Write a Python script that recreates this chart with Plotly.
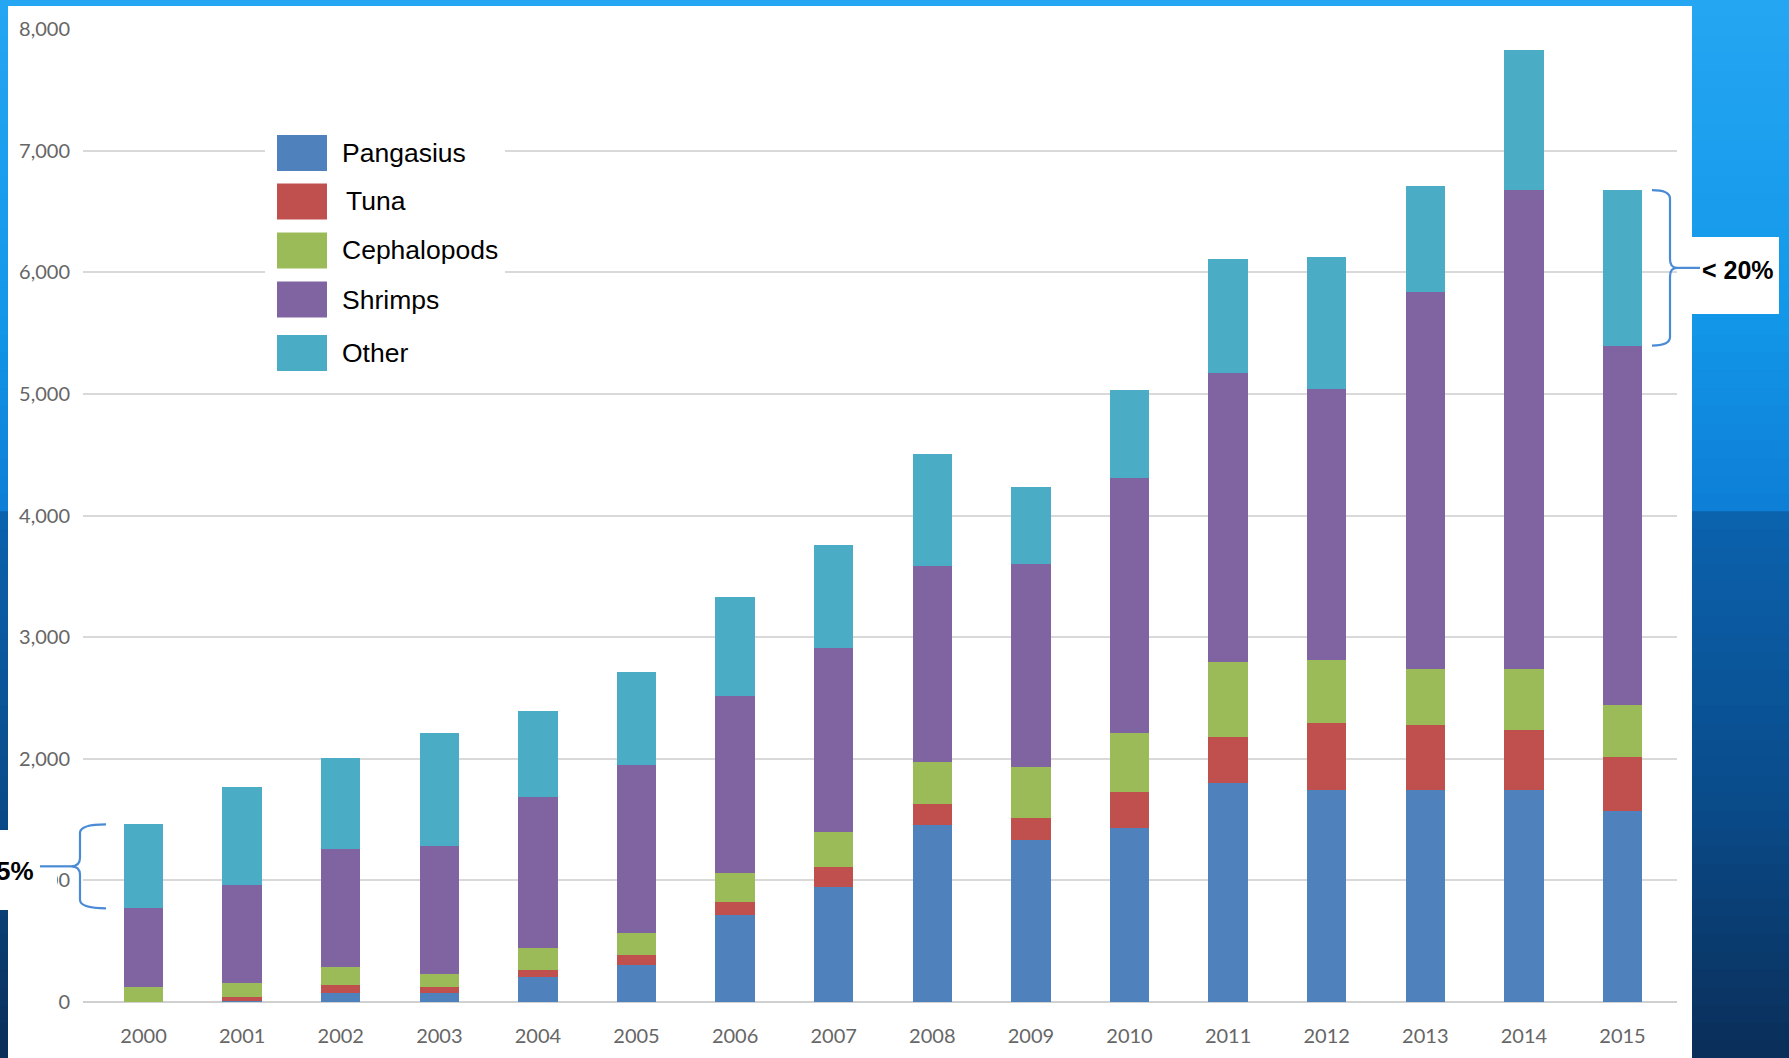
import plotly.graph_objects as go

# ---------------- data ----------------
years = ["2000", "2001", "2002", "2003", "2004", "2005", "2006", "2007",
         "2008", "2009", "2010", "2011", "2012", "2013", "2014", "2015"]
pangasius   = [0, 5, 71, 71, 203, 304, 715, 948, 1452, 1333, 1433, 1799, 1741, 1741, 1741, 1568]
tuna        = [0, 40, 69, 55, 60, 83, 110, 165, 180, 179, 290, 382, 550, 535, 499, 443]
cephalopods = [126, 115, 151, 104, 178, 178, 233, 288, 338, 418, 485, 616, 520, 458, 494, 433]
shrimps     = [644, 798, 967, 1053, 1248, 1384, 1461, 1507, 1611, 1671, 2102, 2376, 2230, 3106, 3941, 2953]
other       = [691, 808, 751, 932, 704, 768, 809, 850, 924, 637, 724, 935, 1084, 871, 1156, 1278]

series_names = ["Pangasius", "Tuna", "Cephalopods", "Shrimps", "Other"]
series_vals = [pangasius, tuna, cephalopods, shrimps, other]
colors = ["#4F81BD", "#C0504D", "#9BBB59", "#8064A2", "#4BACC6"]
y_ticks = [0, 1000, 2000, 3000, 4000, 5000, 6000, 7000, 8000]

# ---------------- geometry helpers (pixels -> paper) ----------------
W, H = 1789, 1058
L, R, T, B = 83, 1677, 29, 1002


def px(x):
    return (x - L) / (R - L)


def py(y):
    return (B - y) / (B - T)


fig = go.Figure()
for name, vals, col in zip(series_names, series_vals, colors):
    fig.add_trace(go.Bar(x=years, y=vals, name=name, marker=dict(color=col, line=dict(width=0)),
                         width=0.4, showlegend=False))

shapes = []


def hexlerp(c1, c2, t):
    a = [int(c1[i:i + 2], 16) for i in (1, 3, 5)]
    b = [int(c2[i:i + 2], 16) for i in (1, 3, 5)]
    return "#%02x%02x%02x" % tuple(int(round(a[k] + (b[k] - a[k]) * t)) for k in range(3))


stops = [(0.0, "#25a6f3"), (0.30, "#1297e8"), (0.48, "#0e7ed6"), (0.49, "#0b62ad"),
         (0.75, "#0a4c8c"), (1.0, "#0a2e58")]
N = 60
for i in range(N):
    y0 = i / N
    y1 = (i + 1) / N
    t = (y0 + y1) / 2
    for j in range(len(stops) - 1):
        if stops[j][0] <= t <= stops[j + 1][0]:
            f = (t - stops[j][0]) / (stops[j + 1][0] - stops[j][0])
            c = hexlerp(stops[j][1], stops[j + 1][1], f)
            break
    shapes.append(dict(type="rect", xref="paper", yref="paper", layer="below",
                       x0=px(0), x1=px(W), y0=py(y0 * H), y1=py(y1 * H + 1),
                       fillcolor=c, line=dict(width=0)))

# white panel
shapes.append(dict(type="rect", xref="paper", yref="paper", layer="below",
                   x0=px(8), x1=px(1692), y0=py(6), y1=py(H),
                   fillcolor="white", line=dict(width=0)))

# legend background (covers gridlines)
shapes.append(dict(type="rect", xref="paper", yref="paper", layer="above",
                   x0=px(265), x1=px(505), y0=py(118), y1=py(385),
                   fillcolor="white", line=dict(width=0)))

annotations = []
leg_rows = [153, 201.5, 250.5, 299.5, 353]
leg_text_x = [340, 344, 340, 340, 340]
for name, col, yc, tx in zip(series_names, colors, leg_rows, leg_text_x):
    shapes.append(dict(type="rect", xref="paper", yref="paper", layer="above",
                       x0=px(277), x1=px(327), y0=py(yc - 18), y1=py(yc + 18),
                       fillcolor=col, line=dict(width=0)))
    annotations.append(dict(x=px(tx), y=py(yc), xref="paper", yref="paper",
                            text=name, showarrow=False, xanchor="left", yanchor="middle",
                            font=dict(family="Liberation Sans, Arial", size=26.5, color="black")))

# left white label box
shapes.append(dict(type="rect", xref="paper", yref="paper", layer="above",
                   x0=px(0), x1=px(57), y0=py(830), y1=py(910),
                   fillcolor="white", line=dict(width=0)))
# right white label box
shapes.append(dict(type="rect", xref="paper", yref="paper", layer="above",
                   x0=px(1692), x1=px(1779), y0=py(237), y1=py(314),
                   fillcolor="white", line=dict(width=0)))

brace_col = "#4A8BD6"


def brace(tip, xv, xc, top, bot, r):
    mid = (top + bot) / 2
    p = (f"M {px(tip)},{top} Q {px(xv)},{top} {px(xv)},{top - r} "
         f"L {px(xv)},{mid + r} Q {px(xv)},{mid} {px(xc)},{mid} "
         f"Q {px(xv)},{mid} {px(xv)},{mid - r} "
         f"L {px(xv)},{bot + r} Q {px(xv)},{bot} {px(tip)},{bot}")
    return dict(type="path", xref="paper", yref="y", layer="above", path=p,
                line=dict(color=brace_col, width=2.2))


# brace on 2000 "Other"
tot0 = sum(v[0] for v in series_vals)
bot0 = tot0 - other[0]
shapes.append(brace(106, 80, 71, tot0, bot0, 70))
mid0 = (tot0 + bot0) / 2
shapes.append(dict(type="line", xref="paper", yref="y", layer="above",
                   x0=px(40), x1=px(71), y0=mid0, y1=mid0, line=dict(color=brace_col, width=2.2)))
annotations.append(dict(x=px(36), y=mid0 - 40, xref="paper", yref="y", text="<b>5%</b>",
                        showarrow=False, xanchor="right", yanchor="middle",
                        font=dict(family="Liberation Sans, Arial", size=26, color="black")))

# brace on 2015 "Other"
tot15 = sum(v[-1] for v in series_vals)
bot15 = tot15 - other[-1]
shapes.append(brace(1652, 1670, 1677, tot15, bot15, 70))
mid15 = (tot15 + bot15) / 2
shapes.append(dict(type="line", xref="paper", yref="y", layer="above",
                   x0=px(1677), x1=px(1700), y0=mid15, y1=mid15, line=dict(color=brace_col, width=2.2)))
annotations.append(dict(x=px(1700), y=mid15 - 20, xref="paper", yref="y", text="<b>< 20%</b>",
                        showarrow=False, xanchor="left", yanchor="middle",
                        font=dict(family="Liberation Sans, Arial", size=25, color="black")))

fig.update_layout(
    width=W, height=H,
    barmode="stack",
    paper_bgcolor="#0e7ed6",
    plot_bgcolor="rgba(0,0,0,0)",
    margin=dict(l=L, r=W - R, t=T, b=H - B, pad=0),
    shapes=shapes,
    annotations=annotations,
    showlegend=False,
    xaxis=dict(type="category", range=[-0.614, 15.553], showgrid=False, zeroline=False,
               showline=False, ticks="outside", ticklen=16, tickcolor="rgba(0,0,0,0)",
               tickfont=dict(family="Lato", size=20, color="#666666")),
    yaxis=dict(range=[0, 8000], tickvals=y_ticks, tickformat=",d", showgrid=True,
               gridcolor="#d9d9d9", gridwidth=2, zeroline=True, zerolinecolor="#d0d0d0",
               zerolinewidth=2, showline=False, ticks="outside", ticklen=8,
               tickcolor="rgba(0,0,0,0)",
               tickfont=dict(family="Lato", size=20, color="#666666")),
)

fig.write_html("out.html", config={"displayModeBar": False},
               post_script="document.body.style.margin='0px';document.body.style.overflow='hidden';")
